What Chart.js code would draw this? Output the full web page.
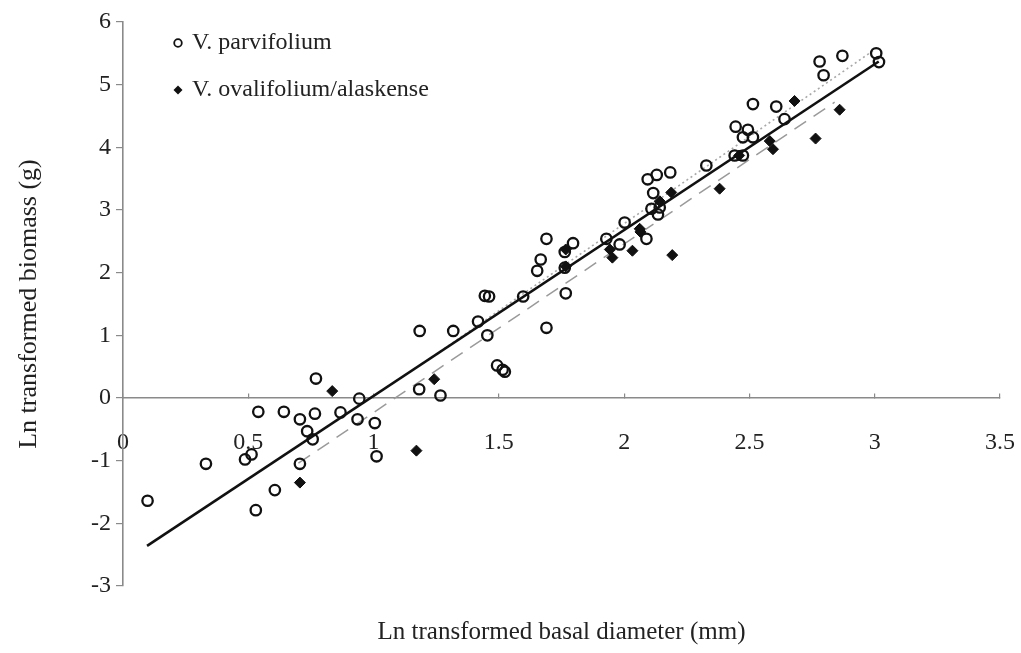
<!DOCTYPE html>
<html>
<head>
<meta charset="utf-8">
<script src="https://cdn.jsdelivr.net/npm/chart.js@4/dist/chart.umd.min.js"></script>
<style>
  html,body{margin:0;padding:0;background:#fff;}
  #wrap{width:1021px;height:653px;position:relative;}
</style>
</head>
<body>
<div id="wrap"><canvas id="chart"></canvas></div>
<script>
// Ln basal diameter (mm) vs ln biomass (g)
const parvifolium = [
  [0.098,-1.64],[0.331,-1.05],[0.487,-0.98],[0.513,-0.90],[0.53,-1.79],[0.54,-0.22],
  [0.606,-1.47],[0.642,-0.22],[0.706,-0.34],[0.706,-1.05],[0.735,-0.53],[0.757,-0.66],
  [0.766,-0.25],[0.77,0.31],[0.868,-0.23],[0.936,-0.34],[0.943,-0.01],[1.005,-0.40],
  [1.012,-0.93],[1.182,0.14],[1.184,1.07],[1.267,0.04],[1.318,1.07],[1.417,1.22],
  [1.444,1.63],[1.461,1.62],[1.454,1.0],[1.493,0.52],[1.515,0.45],[1.524,0.42],
  [1.597,1.62],[1.653,2.03],[1.667,2.21],[1.69,2.54],[1.69,1.12],[1.763,2.08],
  [1.767,1.67],[1.763,2.33],[1.796,2.47],[1.929,2.54],[1.982,2.45],[2.002,2.80],
  [2.089,2.54],[2.094,3.49],[2.109,3.02],[2.116,3.27],[2.13,3.56],[2.135,2.93],
  [2.142,3.04],[2.184,3.60],[2.328,3.71],[2.441,3.87],[2.474,3.87],[2.445,4.33],
  [2.494,4.28],[2.474,4.16],[2.514,4.16],[2.514,4.69],[2.607,4.65],[2.64,4.45],
  [2.78,5.37],[2.796,5.15],[2.871,5.46],[3.006,5.50],[3.017,5.36]
];
const ovalifolium = [
  [0.706,-1.35],[0.835,0.11],[1.171,-0.84],[1.242,0.30],[1.767,2.10],[1.767,2.37],
  [1.943,2.37],[1.953,2.24],[2.033,2.35],[2.062,2.70],[2.065,2.65],[2.142,3.14],
  [2.188,3.28],[2.192,2.28],[2.381,3.34],[2.459,3.87],[2.581,4.10],[2.594,3.97],
  [2.68,4.74],[2.764,4.14],[2.86,4.60]
];
// fitted lines, end points
const fitAll = [[0.096,-2.36],[3.016,5.37]];
const fitParv = [[1.2,0.56],[3.0,5.56]];
const fitOval = [[0.70,-1.04],[2.84,4.72]];

const xTicks = [0,0.5,1,1.5,2,2.5,3,3.5];
const yTicks = [-3,-2,-1,0,1,2,3,4,5,6];
const seriesNames = ['V. parvifolium','V. ovalifolium/alaskense'];
const xTitle = 'Ln transformed basal diameter (mm)';
const yTitle = 'Ln transformed biomass (g)';

const FONT = 'Liberation Serif';
const TXT = '#222';
const AXIS = '#8a8a8a';
const pts = a => a.map(p => ({x:p[0], y:p[1]}));

// legend drawn inside the plot, top-left
const legendInPlot = {
  id:'legendInPlot',
  afterDraw(chart){
    const ctx = chart.ctx, a = chart.chartArea;
    const items = chart.data.datasets.filter(d => d.inLegend);
    ctx.save();
    ctx.font = '24px "' + FONT + '"';
    ctx.textBaseline = 'middle';
    items.forEach((d,i)=>{
      const mx = a.left + 55, my = a.top + 21 + i*47;
      ctx.beginPath();
      if(d.pointStyle === 'circle'){
        ctx.arc(mx, my, 3.8, 0, Math.PI*2);
        ctx.lineWidth = 1.8; ctx.strokeStyle = '#111'; ctx.stroke();
      } else {
        ctx.moveTo(mx, my-4.5); ctx.lineTo(mx+4.5, my); ctx.lineTo(mx, my+4.5); ctx.lineTo(mx-4.5, my);
        ctx.closePath(); ctx.fillStyle = '#111'; ctx.fill();
      }
      ctx.fillStyle = TXT;
      ctx.fillText(d.label, mx + 14, my);
    });
    ctx.restore();
  }
};

new Chart(document.getElementById('chart'), {
  type:'scatter',
  data:{datasets:[
    {label:seriesNames[0], inLegend:true, data:pts(parvifolium), pointStyle:'circle', pointRadius:5.2,
     borderColor:'#111', borderWidth:2.3, backgroundColor:'rgba(0,0,0,0)', order:0},
    {label:seriesNames[1], inLegend:true, data:pts(ovalifolium), pointStyle:'rectRot', pointRadius:5.5,
     borderColor:'#111', borderWidth:1, backgroundColor:'#111', order:0},
    {type:'line', label:'all', data:pts(fitAll), borderColor:'#111', borderWidth:2.6, pointRadius:0, order:1},
    {type:'line', label:'parv fit', data:pts(fitParv), borderColor:'#a8a8a8', borderWidth:1.6, borderDash:[2,3], pointRadius:0, order:2},
    {type:'line', label:'oval fit', data:pts(fitOval), borderColor:'#9a9a9a', borderWidth:1.5, borderDash:[14,9], pointRadius:0, order:2}
  ]},
  options:{
    responsive:true, maintainAspectRatio:false, animation:false,
    layout:{padding:{top:22, right:21, left:0, bottom:0}},
    plugins:{legend:{display:false}, tooltip:{enabled:false}},
    scales:{
      x:{
        type:'linear', min:0, max:3.5, position:{y:0},
        afterBuildTicks: s => { s.ticks = xTicks.map(v => ({value:v})); },
        afterFit: s => { s.paddingLeft = 0; s.paddingRight = 0; },
        ticks:{font:{family:FONT, size:24}, color:TXT, padding:35, maxRotation:0, callback: v => String(v)},
        grid:{drawOnChartArea:false, tickLength:-5, color:AXIS, lineWidth:1.2},
        border:{color:AXIS, width:1.6}
      },
      xt:{
        type:'linear', min:0, max:3.5, position:'bottom', axis:'x',
        ticks:{display:false}, grid:{display:false}, border:{display:false},
        title:{display:true, text:xTitle, font:{family:FONT, size:25}, color:TXT, padding:{top:0, bottom:6}},
        afterFit: s => { s.height = 67; s.paddingLeft = 0; s.paddingRight = 0; }
      },
      y:{
        type:'linear', min:-3, max:6, position:'left',
        afterBuildTicks: s => { s.ticks = yTicks.map(v => ({value:v})); },
        ticks:{font:{family:FONT, size:24}, color:TXT, padding:5},
        grid:{drawOnChartArea:false, tickLength:7, color:AXIS, lineWidth:1.2},
        border:{color:AXIS, width:1.6},
        title:{display:true, text:yTitle, font:{family:FONT, size:26}, color:TXT, padding:{top:14, bottom:0}},
        afterFit: s => { s.width = 123; }
      }
    }
  },
  plugins:[legendInPlot]
});
</script>
</body>
</html>
